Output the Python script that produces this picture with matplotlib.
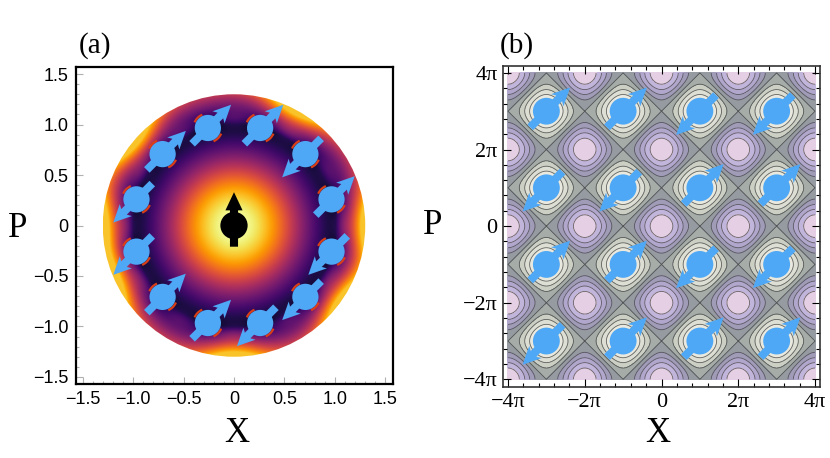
import numpy as np
import matplotlib
matplotlib.use("Agg")
import matplotlib.pyplot as plt
import matplotlib.ticker as ticker
from matplotlib.patches import Circle, Polygon, Arc

# figure size in pixels
W, H = 830, 458

# panel (a): spins on a ring of radius 1 at these angles (deg)
spin_angle_deg = [15, 45, 75, 105, 135, 165, 195, 225, 255, 285, 315, 345]
# +1 -> arrow up-right, -1 -> arrow down-left
spin_dir_a = [1, -1, 1, 1, 1, -1, -1, 1, 1, -1, -1, -1]
ring_radius = 1.0
disk_radius = 1.3
# directions (deg) where the rim of the disk glows brightest
edge_bright_deg = [0, 62, 140, 180, 205, 270, 325]
ticks_a = [-1.5, -1.0, -0.5, 0, 0.5, 1.0, 1.5]

# panel (b): spins at (X, P) in units of pi
spin_x_b = [-3, -1, 1, 3]
spin_p_b = [3, 1, -1, -3]
spin_dir_b = [
    [1, 1, -1, -1],
    [-1, -1, 1, 1],
    [1, 1, -1, -1],
    [-1, 1, 1, 1],
]
ticks_b = [-4, -2, 0, 2, 4]
tick_labels_b = ["\u22124\u03c0", "\u22122\u03c0", "0", "2\u03c0", "4\u03c0"]

# contour band colours, low -> high (cos X + cos P), step 0.4
band_colors = ["#efeee5", "#e9e9df", "#dedfd4", "#cbcfc4", "#a6ada8",
               "#959ba0", "#a09cb8", "#b1a7cc", "#c2b5db", "#e5cfe4"]

SPIN_BLUE = "#4fa8f5"
SERIF = ["Liberation Serif", "DejaVu Serif"]
SANS = ["Liberation Sans", "DejaVu Sans"]


def px_axes(fig, left, top, right, bottom):
    return fig.add_axes([left / W, 1 - bottom / H, (right - left) / W, (bottom - top) / H])


def draw_spin(ax, x, y, sign, R, color, z=5):
    u = np.array([1.0, 1.0]) / np.sqrt(2) * sign
    v = np.array([-u[1], u[0]])
    local = [(-1.7, -0.3), (1.35, -0.3), (1.15, -0.65), (2.5, 0.0),
             (1.15, 0.65), (1.35, 0.3), (-1.7, 0.3)]
    pts = [(x + R * (a * u[0] + b * v[0]), y + R * (a * u[1] + b * v[1])) for a, b in local]
    ax.add_patch(Polygon(pts, closed=True, fc=color, ec="none", zorder=z))
    ax.add_patch(Circle((x, y), R, fc=color, ec="none", zorder=z))


fig = plt.figure(figsize=(W / 100, H / 100), dpi=100)

# ---------------- panel (a) ----------------
axa = px_axes(fig, 75, 67, 393, 384)
lim_a = 1.57
axa.set_xlim(-lim_a, lim_a)
axa.set_ylim(-lim_a, lim_a)

g = np.linspace(-disk_radius, disk_radius, 500)
gx, gy = np.meshgrid(g, g)
r = np.hypot(gx, gy)
th = np.arctan2(gy, gx)
inner = np.clip(np.exp(-(r / 0.71) ** 2.27) - 0.06, 0, None) / 0.94
edge_mod = np.full_like(th, 0.5)
for b in edge_bright_deg:
    d = np.angle(np.exp(1j * (th - np.radians(b))))
    edge_mod = edge_mod + 0.55 * np.exp(-(d / 0.26) ** 2)
outer = np.minimum(1.0 * np.clip((r - 1.0) / 0.3, 0, None) ** 1.1 * edge_mod, 0.86)
ring = 0.12 * np.exp(-((r - 1.06) / 0.09) ** 2) * (0.5 + 0.5 * np.cos(12 * th))
z = inner + outer + ring
im = axa.imshow(z, cmap="inferno", vmin=0, vmax=1.0, origin="lower",
                extent=[-disk_radius, disk_radius, -disk_radius, disk_radius],
                interpolation="bilinear", zorder=1)
im.set_clip_path(Circle((0, 0), disk_radius, transform=axa.transData))

Ra = 0.13
for ang, sgn in zip(spin_angle_deg, spin_dir_a):
    cx = ring_radius * np.cos(np.radians(ang))
    cy = ring_radius * np.sin(np.radians(ang))
    perp = 135 if sgn > 0 else -45
    for base in (perp, perp + 180):
        axa.add_patch(Arc((cx, cy), 2.2 * Ra, 2.2 * Ra, theta1=base - 22, theta2=base + 22,
                          color="#d93e16", lw=1.6, zorder=4))
    draw_spin(axa, cx, cy, sgn, Ra, SPIN_BLUE)

# central black spin
axa.add_patch(Circle((0, 0), 0.135, fc="black", ec="none", zorder=6))
axa.add_patch(Polygon([(-0.04, -0.21), (0.04, -0.21), (0.04, 0.15), (0.085, 0.15),
                       (0.0, 0.33), (-0.085, 0.15), (-0.04, 0.15)],
                      closed=True, fc="black", ec="none", zorder=6))

axa.xaxis.set_major_locator(ticker.FixedLocator(ticks_a))
axa.yaxis.set_major_locator(ticker.FixedLocator(ticks_a))
axa.xaxis.set_minor_locator(ticker.MultipleLocator(0.1))
axa.yaxis.set_minor_locator(ticker.MultipleLocator(0.1))


def fmt_a(v, pos):
    if abs(v) < 1e-9:
        return "0"
    return f"{v:.1f}".replace("-", "\u2212")


axa.xaxis.set_major_formatter(ticker.FuncFormatter(fmt_a))
axa.yaxis.set_major_formatter(ticker.FuncFormatter(fmt_a))
axa.tick_params(which="both", direction="in", color="#b0b0b0", width=0.8)
axa.tick_params(which="major", length=5, labelsize=13, pad=5)
axa.tick_params(which="minor", length=2.5)
for lab in axa.get_xticklabels() + axa.get_yticklabels():
    lab.set_family(SANS)
for s in axa.spines.values():
    s.set_linewidth(1.6)
    s.set_color("black")

# ---------------- panel (b) ----------------
axb = px_axes(fig, 503, 66, 820, 387)
axb.set_xlim(-4.13 * np.pi, 4.13 * np.pi)
axb.set_ylim(-4.2 * np.pi, 4.18 * np.pi)

gb = np.linspace(-4 * np.pi, 4 * np.pi, 700)
bx, bp = np.meshgrid(gb, gb)
fb = np.cos(bx) + np.cos(bp)
levels = np.linspace(-2.0001, 2.0001, len(band_colors) + 1)
axb.contourf(bx, bp, fb, levels=levels, colors=band_colors, zorder=1)
axb.contour(bx, bp, fb, levels=levels[1:-1], colors="#3c3c3c", linewidths=0.6,
            linestyles="solid", alpha=0.75, zorder=2)

Rb = 1.1
for i, pp in enumerate(spin_p_b):
    for j, xx in enumerate(spin_x_b):
        draw_spin(axb, xx * np.pi, pp * np.pi, spin_dir_b[i][j], Rb, SPIN_BLUE)

axb.xaxis.set_major_locator(ticker.FixedLocator([t * np.pi for t in ticks_b]))
axb.yaxis.set_major_locator(ticker.FixedLocator([t * np.pi for t in ticks_b]))
axb.xaxis.set_major_formatter(ticker.FixedFormatter(tick_labels_b))
axb.yaxis.set_major_formatter(ticker.FixedFormatter(tick_labels_b))
axb.xaxis.set_minor_locator(ticker.MultipleLocator(0.4 * np.pi))
axb.yaxis.set_minor_locator(ticker.MultipleLocator(0.4 * np.pi))
axb.tick_params(which="both", direction="in", top=True, right=True, color="black", width=0.8)
axb.tick_params(which="major", length=6, labelsize=16, pad=4)
axb.tick_params(which="minor", length=3)
for lab in axb.get_xticklabels() + axb.get_yticklabels():
    lab.set_family(SERIF)
for s in axb.spines.values():
    s.set_linewidth(1.2)
    s.set_color("#333333")

# ---------------- labels ----------------
def ftext(x, y, s, size, **kw):
    fig.text(x / W, 1 - y / H, s, fontsize=size, family=SERIF, ha="center", va="center", **kw)


ftext(95, 46, "(a)", 21)
ftext(517, 46, "(b)", 21)
ftext(237, 434, "X", 25)
ftext(658, 434, "X", 25)
ftext(18, 228, "P", 25)
ftext(433, 226, "P", 25)

fig.savefig("out.png", dpi=100)
